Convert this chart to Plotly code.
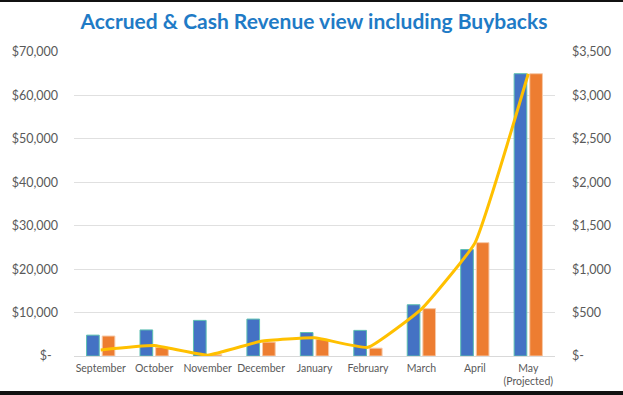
import plotly.graph_objects as go

categories = ["September", "October", "November", "December", "January",
              "February", "March", "April", "May<br>(Projected)"]
accrued = [4800, 6000, 8200, 8500, 5400, 5900, 11800, 24500, 65000]
cash = [4600, 2000, 300, 3200, 3800, 1800, 10900, 26100, 65000]
buybacks = [70, 120, 10, 170, 210, 100, 540, 1300, 3250]

left_vals = [0, 10000, 20000, 30000, 40000, 50000, 60000, 70000]
left_text = ["$-  ", "$10,000", "$20,000", "$30,000", "$40,000", "$50,000", "$60,000", "$70,000"]
right_vals = [0, 500, 1000, 1500, 2000, 2500, 3000, 3500]
right_text = ["$-", "$500", "$1,000", "$1,500", "$2,000", "$2,500", "$3,000", "$3,500"]

W, H = 623, 412
ML, MR, MT, MB = 68, 63, 52, 56

fig = go.Figure()
fig.add_trace(go.Bar(x=categories, y=accrued, name="Accrued",
                     marker=dict(color="#4472C4", line=dict(color="#5BBFB0", width=1))))
fig.add_trace(go.Bar(x=categories, y=cash, name="Cash",
                     marker=dict(color="#ED7D31", line=dict(color="#F6C9A8", width=1))))
fig.add_trace(go.Scatter(x=categories, y=buybacks, name="Buybacks", yaxis="y2",
                         mode="lines", line=dict(color="#FFC000", width=3, shape="spline", smoothing=0.35)))

tickfont = dict(family="Lato, Open Sans, sans-serif", size=12.5, color="#595959")
fig.update_layout(
    width=W, height=H,
    margin=dict(l=ML, r=MR, t=MT, b=MB, pad=0),
    paper_bgcolor="white", plot_bgcolor="white",
    showlegend=False, hovermode=False,
    bargap=0.415, bargroupgap=0.19,
    title=dict(text="<b>Accrued & Cash Revenue view including Buybacks</b>",
               x=314 / W, xanchor="center", y=1 - 22 / H, yanchor="middle",
               font=dict(family="Lato, Open Sans, sans-serif", size=21, color="#1F7BC6")),
    xaxis=dict(showgrid=False, showline=True, linecolor="#D9D9D9", linewidth=1,
               ticks="", tickfont=dict(family="Lato, Open Sans, sans-serif", size=10.5, color="#595959"),
               ticklabelstandoff=2),
    yaxis=dict(range=[0, 70000], tickvals=left_vals, ticktext=left_text,
               showgrid=True, gridcolor="#E0E0E0", gridwidth=1, zeroline=False,
               tickfont=tickfont, ticklabelstandoff=15),
    yaxis2=dict(range=[0, 3500], tickvals=right_vals, ticktext=right_text,
                overlaying="y", side="right", showgrid=False, zeroline=False,
                tickfont=tickfont, ticklabelstandoff=16),
)

plot_h = H - MT - MB
def px_to_paper(ypx):
    return (H - MB - ypx) / plot_h

# dark frame strips along the top and bottom edges
fig.add_shape(type="rect", xref="paper", yref="paper", x0=-0.2, x1=1.2,
              y0=px_to_paper(2), y1=px_to_paper(-5), fillcolor="#111111", line=dict(width=0))
fig.add_shape(type="rect", xref="paper", yref="paper", x0=-0.2, x1=1.2,
              y0=px_to_paper(H + 5), y1=px_to_paper(391), fillcolor="#111111", line=dict(width=0))

fig.write_html("out.html", config={"displayModeBar": False},
               post_script="document.body.style.margin='0';document.body.style.overflow='hidden';")
